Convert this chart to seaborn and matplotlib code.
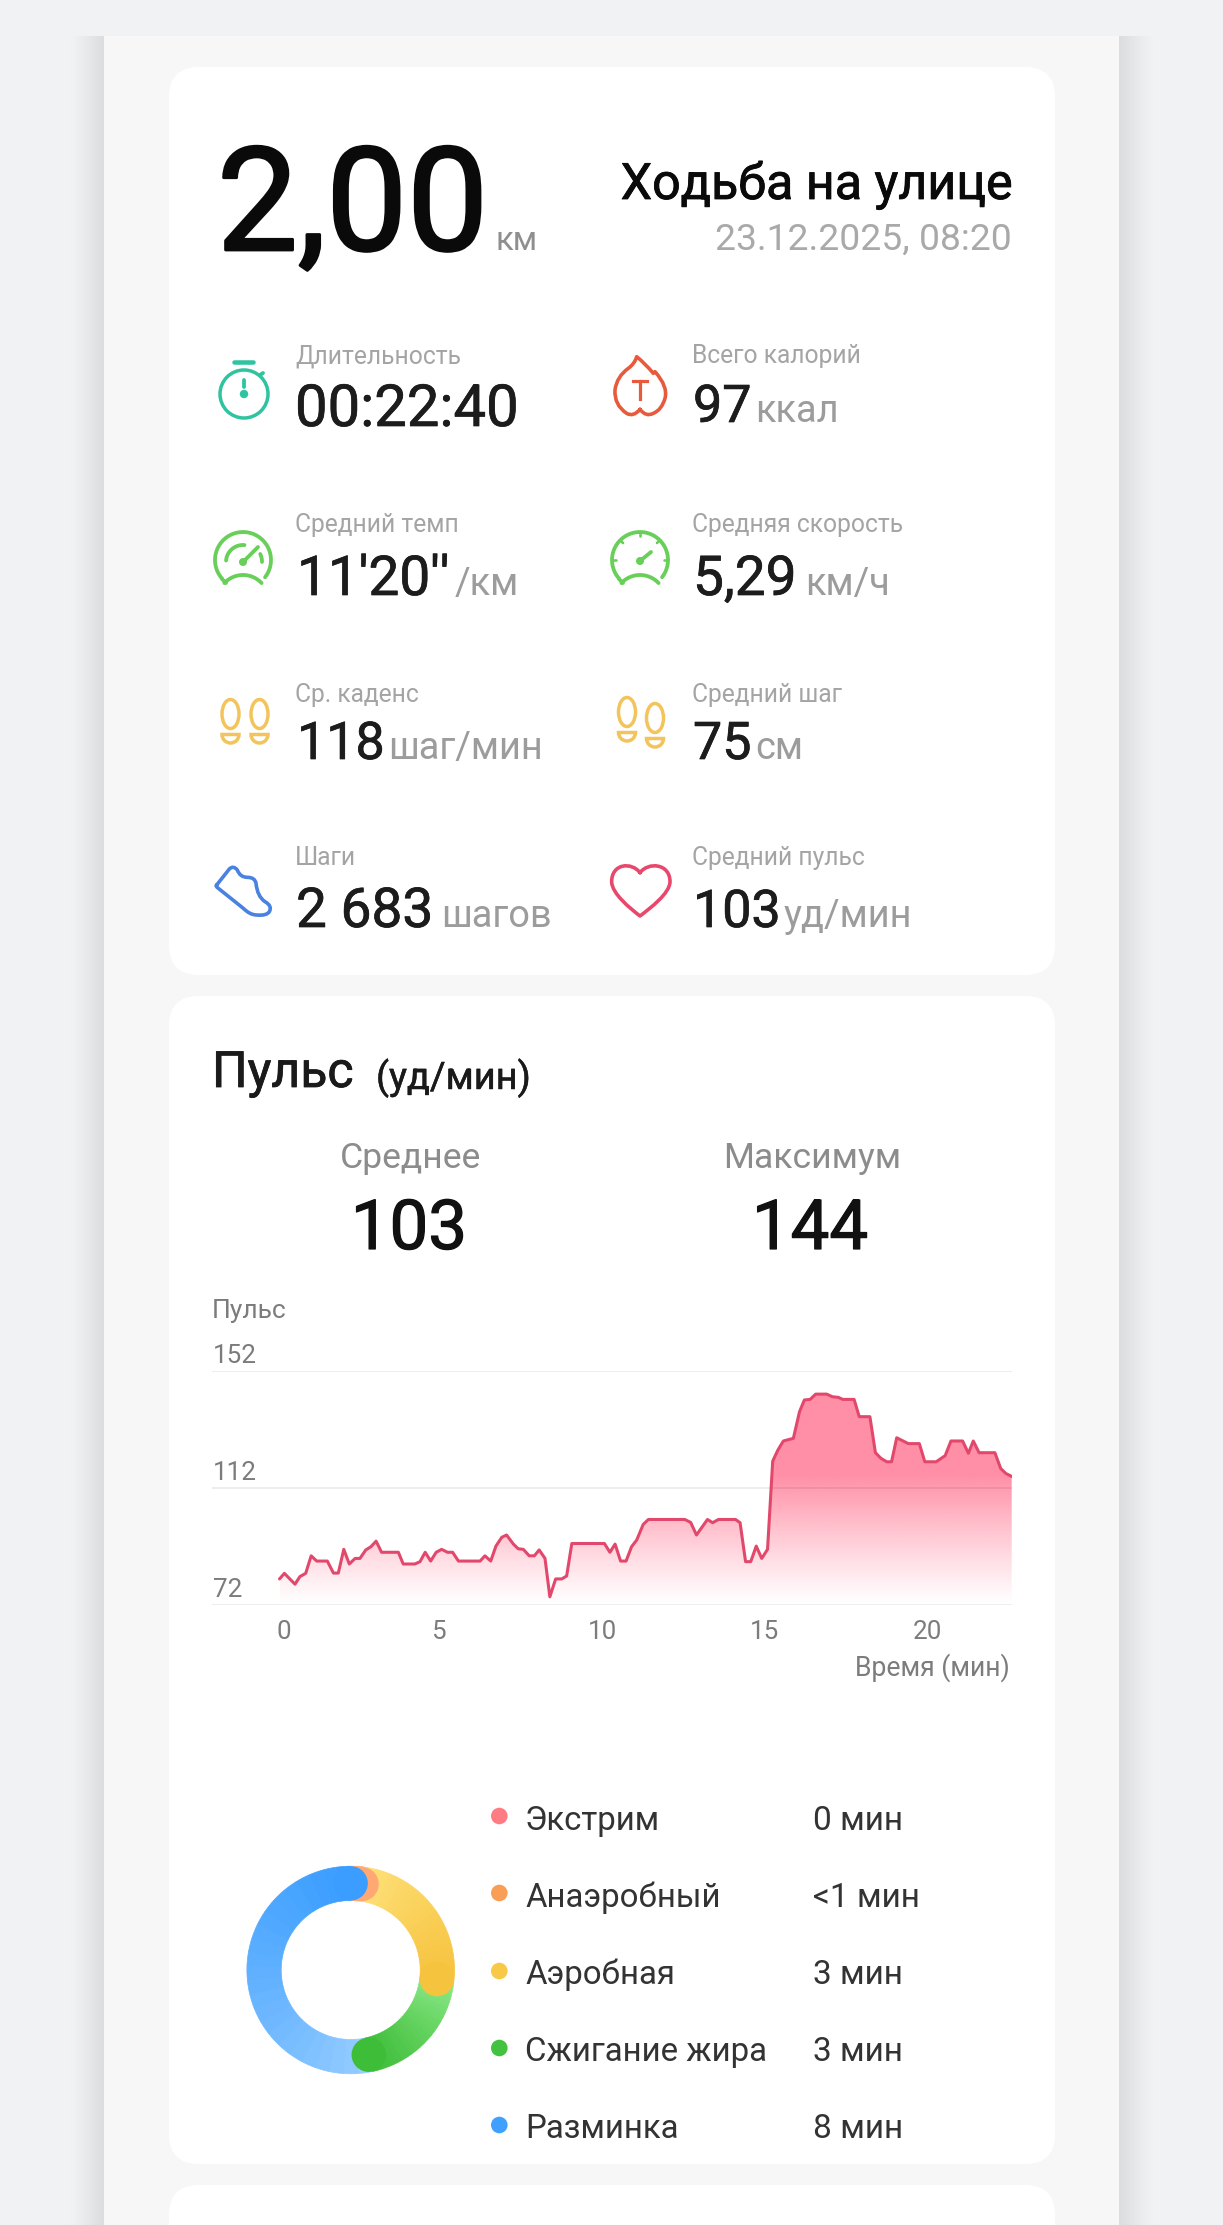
"""Workout summary screen: stat card, heart rate chart and zone donut."""

import numpy as np
import matplotlib
matplotlib.use('Agg')
import matplotlib.patheffects as pe
import matplotlib.pyplot as plt
import matplotlib.transforms as mtrans
from matplotlib.colors import to_rgb
from matplotlib.patches import Circle, Ellipse, FancyBboxPatch, PathPatch, Rectangle, Wedge
from matplotlib.path import Path
import seaborn as sns

# heart rate
time_min = [0, 0.15, 0.48, 0.63, 0.81, 0.98, 1.15, 1.48, 1.67, 1.82, 1.99, 2.16, 2.34, 2.49, 2.67,
            2.83, 2.99, 3.16, 3.68, 3.83, 4.19, 4.35, 4.51, 4.68, 4.85, 5.02, 5.2, 5.36, 5.54, 6.21,
            6.36, 6.54, 6.7, 6.88, 7.03, 7.24, 7.39, 7.55, 7.73, 7.89, 8.04, 8.22, 8.37, 8.55, 8.74,
            8.89, 9.05, 10.06, 10.23, 10.39, 10.56, 10.73, 10.9, 11.06, 11.26, 11.42, 12.55, 12.73,
            12.91, 13.25, 13.41, 13.59, 14.12, 14.26, 14.43, 14.59, 14.76, 14.93, 15.11, 15.27, 15.43,
            15.6, 15.91, 16.1, 16.25, 16.43, 16.6, 16.94, 17.12, 17.3, 17.44, 17.79, 17.95, 18.28,
            18.45, 18.62, 18.8, 18.95, 19.11, 19.47, 19.81, 19.98, 20.33, 20.61, 20.79, 21.15, 21.33,
            21.48, 21.66, 22.15, 22.33, 22.49, 22.67]
bpm = [80.9, 82.8, 79.1, 81.7, 82.8, 88.8, 87, 87, 82.9, 82.9, 91, 86, 87.9, 87.9, 90.8,
       91.9, 93.8, 90, 90, 86, 86, 86.8, 90, 87, 90, 91, 90, 90, 87, 87,
       88.8, 87, 92.1, 95.1, 95.9, 92.8, 91.2, 91, 88.8, 88.8, 90.8, 87.9, 74.8, 80.9, 80.9,
       81.9, 93, 93, 90, 92.8, 87, 87, 91.9, 94.2, 99.5, 101.2, 101.2, 100.2,
       95.9, 101.2, 100.1, 101.2, 101.2, 100.1, 86.8, 86.8, 92.1, 87.9, 91, 121.1, 124.9,
       128, 128.9, 138, 142, 142.2, 144, 144, 143.1, 142.9, 142.2, 142.2, 136.3, 136.3,
       124, 122.1, 120.9, 120.9, 129.1, 127.1, 127.1, 120.9, 120.9, 123, 128, 128, 123.8,
       128, 124, 124, 118.6, 116.9, 115.9]
x_ticks = [0, 5, 10, 15, 20]
y_ticks = [72, 112, 152]

# heart rate zones
zone_names = ['Экстрим', 'Анаэробный', 'Аэробная', 'Сжигание жира', 'Разминка']
zone_labels = ['0 мин', '<1 мин', '3 мин', '3 мин', '8 мин']
zone_minutes = [0, 0.3, 3.7, 3.0, 8.0]
zone_dots = ['#ff7c84', '#f99f55', '#f8c946', '#42c23e', '#3fa0ff']
zone_start = ['#ff7c84', '#ffad78', '#ffe27c', '#8eea8a', '#97cdff']
zone_end = ['#ff7c84', '#ffa873', '#f6c33e', '#3dbd38', '#3a9dff']

# stat grid: label, value, unit
stat_labels = ['Длительность', 'Всего калорий', 'Средний темп', 'Средняя скорость',
               'Ср. каденс', 'Средний шаг', 'Шаги', 'Средний пульс']
stat_values = ['00:22:40', '97', "11'20''", '5,29', '118', '75', '2 683', '103']
stat_units = ['', 'ккал', '/км', 'км/ч', 'шаг/мин', 'см', 'шагов', 'уд/мин']

W, H = 1223, 2225
sns.set_theme(style='white')
plt.rcParams['font.family'] = ['Roboto', 'DejaVu Sans']

fig = plt.figure(figsize=(W / 100, H / 100), dpi=100, facecolor='#f1f2f4')
page = fig.add_axes([0, 0, 1, 1], zorder=0)
page.set_axis_off()


def px_axes(left, top, right, bottom, **kw):
    """Axes placed by pixel box, y measured from the top of the screen."""
    return fig.add_axes([left / W, 1 - bottom / H, (right - left) / W, (bottom - top) / H], **kw)


def put(x, y, s, px, color, ha='left', heft=0):
    """Text at a pixel baseline; heft thickens the glyphs to reach medium weight."""
    t = page.text(x, y, s, fontsize=px * 0.72, color=color, ha=ha, va='baseline')
    if heft:
        t.set_path_effects([pe.withStroke(linewidth=heft * 0.72, foreground=color)])
    return t


def stroke(xs, ys, color, lw=3.8):
    page.plot(xs, ys, color=color, lw=lw * 0.72, solid_capstyle='round', solid_joinstyle='round')


def arc(cx, cy, r, a0, a1):
    a = np.radians(np.linspace(a0, a1, 40))
    return cx + r * np.cos(a), cy - r * np.sin(a)


def outline(verts, codes, color, lw=3.6):
    page.add_patch(PathPatch(Path(verts, codes), fill=False, edgecolor=color, lw=lw * 0.72,
                             joinstyle='round', capstyle='round'))


# screen background
page.add_patch(Rectangle((104, 36), 1014.7, H - 36, color='#f7f7f7', lw=0))
shade = np.zeros((1, 64, 4))
shade[0, :, 3] = np.linspace(0, 0.11, 64) ** 1.3 * 1.6
page.imshow(shade, extent=[68, 104, H, 36], aspect='auto')
page.imshow(shade[:, ::-1], extent=[1118.7, 1156, H, 36], aspect='auto')
for top, bottom in [(67, 975), (996, 2164), (2185, 2300)]:
    page.add_patch(FancyBboxPatch((169, top), 886, bottom - top, lw=0, facecolor='white',
                                  boxstyle='round,pad=0,rounding_size=30'))
page.set_xlim(0, W)
page.set_ylim(H, 0)

# header
put(217, 250, '2,00', 144, '#0a0a0a', heft=2.8)
put(496, 250, 'км', 33, '#8f8f8f')
put(1013, 199, 'Ходьба на улице', 50.2, '#0a0a0a', ha='right', heft=0.8)
put(1012, 250, '23.12.2025, 08:20', 37.3, '#a9a9a9', ha='right')

# stat grid
label_x = [295, 692]
value_x = [295, 693, 297, 693, 297, 693, 296, 693]
label_y = [363, 532, 702, 865]
value_y = [426, 422, 595, 595, 759, 759, 927, 927]
value_px = [58, 52, 55, 55, 52, 52, 55, 52]
unit_x = [0, 755, 455, 805, 388, 755, 441, 784]
for i, (lab, val, unit) in enumerate(zip(stat_labels, stat_values, stat_units)):
    col, row = i % 2, i // 2
    put(label_x[col], label_y[row], lab, 24.6, '#a4a4a4')
    put(value_x[i], value_y[i], val, value_px[i], '#1c1c1c', heft=0.7)
    if unit:
        put(unit_x[i], value_y[i], unit, 38, '#9c9c9c')

# stopwatch icon
teal = '#2fc3a0'
page.add_patch(Circle((244, 394), 24, fill=False, edgecolor=teal, lw=2.5))
stroke([234, 253], [362, 362], teal, 4.5)
stroke([244, 244], [380, 387], teal)
page.add_patch(Circle((244, 394), 4.2, color=teal, lw=0))
stroke([260, 263], [375, 373], teal)

# pace gauge icon
green = '#68cf58'
stroke(*arc(243, 560, 28, -38, 222), green)
stroke(*arc(243, 600.4, 25.4, 43, 137), green)
stroke([222, 226], [579, 583], green)
stroke(*arc(243, 562, 17, 175, 85), green)
stroke(*arc(243, 562, 19, 25, 0), green)
stroke([243, 258], [562, 547], green)
page.add_patch(Circle((243, 562), 4, color=green, lw=0))

# speed gauge icon
stroke(*arc(640, 560, 28, -38, 222), green)
stroke(*arc(640, 600.4, 25.4, 43, 137), green)
stroke([619, 623], [579, 583], green)
stroke([640, 651], [561, 552], green)
page.add_patch(Circle((640, 561), 4, color=green, lw=0))
for ang in [180, 135, 90, 45, 0]:
    a = np.radians(ang)
    stroke([640 + 28 * np.cos(a), 640 + 24 * np.cos(a)], [560 - 28 * np.sin(a), 560 - 24 * np.sin(a)], green, 2.6)

# flame icon
flame = [(150, 238), (130, 262), (110, 250), (72, 225), (75, 180), (80, 140), (115, 115), (135, 100), (140, 80),
         (165, 100), (190, 130), (195, 125), (235, 170), (225, 205), (215, 240), (190, 250), (168, 262), (150, 238)]
flame_codes = [Path.MOVETO, Path.CURVE3, Path.CURVE3, Path.CURVE3, Path.CURVE3, Path.CURVE3, Path.CURVE3,
               Path.CURVE3, Path.CURVE3, Path.CURVE3, Path.CURVE3, Path.LINETO, Path.CURVE3, Path.CURVE3,
               Path.CURVE3, Path.CURVE3, Path.CURVE3, Path.CURVE3]
outline([(590 + x / 3, 330 + y / 3) for x, y in flame], flame_codes, '#e85a3c')
put(640, 400, 'Т', 28, '#e85a3c', ha='center', heft=1.2)


def footprint(cx, top, color='#f3c45c'):
    page.add_patch(Ellipse((cx, top + 15), 17, 29, fill=False, edgecolor=color, lw=2.5))
    page.add_patch(Wedge((cx, top + 35.5), 8.5, 0, 180, fill=False, edgecolor=color, lw=2.5))


footprint(230.5, 699)
footprint(259.5, 699)
footprint(627, 697)
footprint(655, 703)

# shoe icon
shoe = [(80, 645), (118, 597), (130, 585), (142, 600), (150, 622), (172, 622), (195, 622), (198, 640),
        (202, 680), (225, 695), (248, 708), (238, 725), (230, 738), (200, 735), (180, 735), (160, 715),
        (85, 655), (75, 648), (80, 645)]
shoe_codes = [Path.MOVETO, Path.LINETO] + [Path.CURVE3] * 14 + [Path.LINETO, Path.CURVE3, Path.CURVE3]
outline([(190 + x / 3, 670 + y / 3) for x, y in shoe], shoe_codes, '#4a82e2')

# heart icon
heart = [(150, 608), (125, 575), (65, 580), (65, 635), (65, 670), (120, 715), (150, 738),
         (180, 715), (240, 670), (240, 635), (240, 580), (175, 575), (150, 608)]
outline([(590 + x / 3, 670 + y / 3) for x, y in heart], [Path.MOVETO] + [Path.CURVE4] * 12, '#e8486c')

# heart rate card
put(212, 1087, 'Пульс', 50, '#1a1a1a', heft=0.8)
put(376, 1089, '(уд/мин)', 38, '#1a1a1a', heft=0.5)
put(411, 1168, 'Среднее', 35.5, '#8c8c8c', ha='center')
put(812, 1168, 'Максимум', 35.5, '#8c8c8c', ha='center')
put(409, 1249, '103', 69, '#111111', ha='center', heft=1.2)
put(810, 1249, '144', 69, '#111111', ha='center', heft=1.2)
put(212, 1318, 'Пульс', 26.4, '#7c7c7c')
put(1010, 1676, 'Время (мин)', 26.5, '#7c7c7c', ha='right')

ax = px_axes(211.7, 1370.7, 1011.7, 1605, zorder=2)
ax.patch.set_visible(False)
sns.despine(ax=ax, left=True, bottom=True)

# pink wash, strongest from about 116 bpm upwards
wash = np.zeros((256, 1, 4))
wash[:, :, :3] = to_rgb('#ff8fa6')
wash[:, 0, 3] = np.clip(np.linspace(0, 1, 256) * 80 / 44, 0, 1) ** 1.15
area = ax.fill_between(time_min, bpm, 72, color='none', lw=0)
img = ax.imshow(wash, extent=[0, 22.67, 72, 152], origin='lower', aspect='auto', zorder=1)
img.set_clip_path(area.get_paths()[0], transform=ax.transData)

sns.lineplot(x=time_min, y=bpm, ax=ax, color='#e2486c', lw=2.2, errorbar=None, sort=False, zorder=3)
ax.set_xlim(-2.1, 22.67)
ax.set_ylim(72, 152)
ax.set_xticks(x_ticks)
ax.set_yticks(y_ticks)
ax.set_xlabel('')
ax.set_ylabel('')
ax.grid(axis='y', color='black', alpha=0.08, lw=1.2)
ax.set_axisbelow(False)
ax.tick_params(axis='x', length=0, pad=11, labelsize=26 * 0.72, labelcolor='#7c7c7c')
ax.tick_params(axis='y', length=0, pad=-1, labelsize=26 * 0.72, labelcolor='#7c7c7c')
for lab in ax.get_yticklabels():
    lab.set_ha('left')
    lab.set_va('baseline')
    lab.set_transform(lab.get_transform() + mtrans.ScaledTranslation(0, 8 / 100, fig.dpi_scale_trans))
# the app centres its time labels slightly off the ticks
for lab, nudge in zip(ax.get_xticklabels(), [4, -3, 0, 1, 1.5]):
    lab.set_transform(lab.get_transform() + mtrans.ScaledTranslation(nudge / 100, 0, fig.dpi_scale_trans))

# zone donut, split into short slices to carry the gradient along the ring
R_OUT, R_IN = 103.8, 69.5
CX, CY = 350.7, 1970
donut = px_axes(CX - R_OUT, CY - R_OUT, CX + R_OUT, CY + R_OUT, zorder=2)
slices, shades, ends = [], [], []
n_sub = 24
for minutes, c0, c1 in zip(zone_minutes, zone_start, zone_end):
    if minutes == 0:
        continue
    for t in np.linspace(0, 1, n_sub) ** 0.8:
        slices.append(minutes / n_sub)
        shades.append(tuple((1 - t) * np.array(to_rgb(c0)) + t * np.array(to_rgb(c1))))
    ends.append((sum(slices), c1))
wedges, _ = donut.pie(slices, colors=shades, startangle=90, counterclock=False, radius=1,
                      wedgeprops={'width': 1 - R_IN / R_OUT, 'linewidth': 0.5})
for w in wedges:
    w.set_edgecolor(w.get_facecolor())
mid = (1 + R_IN / R_OUT) / 2
for cum, color in ends:
    ang = np.pi / 2 - 2 * np.pi * cum / sum(slices)
    donut.add_patch(Circle((mid * np.cos(ang), mid * np.sin(ang)), 1 - mid, color=color, lw=0, zorder=5))
donut.set_xlim(-1, 1)
donut.set_ylim(-1, 1)

# zone legend
dot_y = [1816, 1893, 1971, 2048, 2125]
text_y = [1830, 1907, 1984, 2061, 2138]
for y, base, name, dur, dot in zip(dot_y, text_y, zone_names, zone_labels, zone_dots):
    page.add_patch(Circle((499.3, y), 8.3, color=dot, lw=0))
    put(525, base, name, 33, '#333333')
    put(812.7, base, dur, 33.4, '#333333')

fig.savefig('out.png', dpi=100)
